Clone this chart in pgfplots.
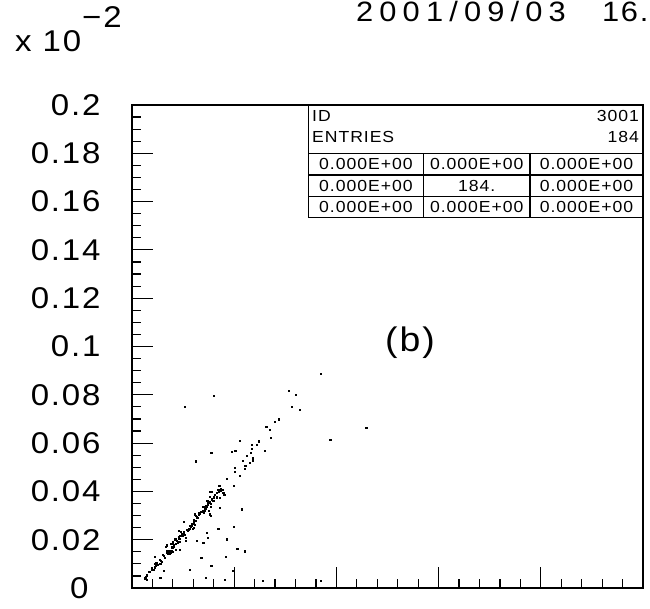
\documentclass[border=0pt]{standalone}
\usepackage{pgfplots}
\pgfplotsset{compat=1.18}
\usepackage{fontspec}
\setmainfont{Liberation Sans}
\newfontfamily\pawfont[FakeStretch=1.1,LetterSpace=6]{Liberation Sans}
\newfontfamily\datefont[FakeStretch=1.1,LetterSpace=22]{Liberation Sans}
\newcommand{\bigpaw}{\pawfont\fontsize{30}{32}\selectfont}
\newcommand{\smallpaw}{\pawfont\fontsize{16}{17}\selectfont}
\newcommand{\yl}[1]{#1\hspace*{28pt}}
\pgfplotstableread{
x y
0.0737 0.0889
0.0614 0.0817
0.0641 0.0800
0.0321 0.0795
0.0207 0.0750
0.0625 0.0751
0.0656 0.0737
0.0575 0.0699
0.0560 0.0690
0.0525 0.0668
0.0538 0.0657
0.0917 0.0665
0.0543 0.0624
0.0776 0.0614
0.0423 0.0610
0.0496 0.0608
0.0487 0.0593
0.0470 0.0593
0.0469 0.0577
0.0520 0.0569
0.0404 0.0569
0.0390 0.0564
0.0310 0.0561
0.0464 0.0561
0.0450 0.0547
0.0473 0.0539
0.0472 0.0529
0.0433 0.0527
0.0250 0.0525
0.0460 0.0519
0.0443 0.0508
0.0442 0.0495
0.0402 0.0497
0.0402 0.0480
0.0423 0.0464
0.0372 0.0453
0.0399 0.0422
0.0341 0.0425
0.0346 0.0412
0.0353 0.0408
0.0337 0.0406
0.0311 0.0400
0.0303 0.0398
0.0357 0.0395
0.0361 0.0387
0.0331 0.0393
0.0305 0.0378
0.0321 0.0376
0.0342 0.0375
0.0332 0.0379
0.0294 0.0362
0.0303 0.0356
0.0307 0.0350
0.0288 0.0342
0.0297 0.0345
0.0279 0.0338
0.0285 0.0333
0.0308 0.0337
0.0342 0.0331
0.0430 0.0326
0.0300 0.0320
0.0261 0.0313
0.0266 0.0308
0.0271 0.0315
0.0282 0.0312
0.0245 0.0306
0.0250 0.0300
0.0303 0.0306
0.0308 0.0298
0.0253 0.0293
0.0248 0.0279
0.0202 0.0276
0.0240 0.0270
0.0245 0.0262
0.0235 0.0260
0.0230 0.0254
0.0243 0.0251
0.0238 0.0246
0.0224 0.0246
0.0219 0.0237
0.0337 0.0246
0.0399 0.0255
0.0183 0.0237
0.0191 0.0232
0.0201 0.0227
0.0206 0.0221
0.0291 0.0229
0.0193 0.0215
0.0183 0.0212
0.0209 0.0208
0.0169 0.0202
0.0175 0.0196
0.0188 0.0193
0.0211 0.0196
0.0295 0.0209
0.0371 0.0202
0.0253 0.0195
0.0279 0.0188
0.0159 0.0185
0.0164 0.0177
0.0157 0.0169
0.0136 0.0177
0.0133 0.0171
0.0172 0.0160
0.0188 0.0157
0.0138 0.0152
0.0144 0.0149
0.0149 0.0152
0.0141 0.0144
0.0146 0.0146
0.0136 0.0149
0.0154 0.0154
0.0159 0.0149
0.0144 0.0141
0.0412 0.0163
0.0441 0.0152
0.0089 0.0129
0.0123 0.0133
0.0128 0.0127
0.0271 0.0124
0.0368 0.0130
0.0112 0.0114
0.0117 0.0108
0.0112 0.0099
0.0094 0.0094
0.0102 0.0096
0.0107 0.0099
0.0310 0.0091
0.0078 0.0083
0.0083 0.0077
0.0089 0.0086
0.0125 0.0071
0.0226 0.0077
0.0070 0.0069
0.0065 0.0066
0.0395 0.0072
0.0058 0.0053
0.0055 0.0047
0.0052 0.0041
0.0110 0.0044
0.0290 0.0044
0.0057 0.0034
0.0363 0.0034
0.0511 0.0031
0.0740 0.0031
0.0151 0.0182
0.0162 0.0171
0.0159 0.0190
0.0196 0.0224
0.0188 0.0215
0.0222 0.0243
0.0238 0.0265
0.0248 0.0298
0.0292 0.0337
0.0332 0.0373
0.0091 0.0099
0.0076 0.0075
0.0140 0.0155
0.0147 0.0143
0.0135 0.0147
0.0151 0.0147
0.0170 0.0185
0.0178 0.0190
0.0185 0.0205
0.0198 0.0218
0.0203 0.0233
0.0213 0.0240
0.0227 0.0258
0.0233 0.0266
0.0242 0.0281
0.0256 0.0290
0.0262 0.0302
0.0276 0.0318
0.0284 0.0322
0.0290 0.0330
0.0298 0.0352
0.0312 0.0368
0.0325 0.0385
0.0338 0.0398
0.0348 0.0402
0.0107 0.0118
0.0095 0.0104
0.0120 0.0137
0.0318 0.0360
}\scatterdata
\begin{document}
\begin{tikzpicture}[x=1pt,y=1pt]
\begin{axis}[
  scale only axis, width=511pt, height=483pt,
  at={(0,0)}, anchor=south west,
  xmin=0, xmax=0.2, ymin=0, ymax=0.2,
  axis line style={line width=2.6pt, black},
  tick pos=left, tick align=inside,
  xtick={0,0.04,0.08,0.12,0.16,0.2}, xticklabels={},
  minor x tick num=4,
  ytick={0,0.02,0.04,0.06,0.08,0.1,0.12,0.14,0.16,0.18,0.2},
  yticklabels={0\hspace*{40pt},\yl{0.02},\yl{0.04},\yl{0.06},\yl{0.08},\yl{0.1},\yl{0.12},\yl{0.14},\yl{0.16},\yl{0.18},\yl{0.2}},
  minor y tick num=3,
  major tick length=21pt, minor tick length=9.5pt,
  every tick/.style={black, line width=1.2pt},
  yticklabel style={font=\bigpaw, anchor=east},
  clip=false,
]
\addplot[only marks, mark=square*, mark size=0.6pt, black, draw=none] table[x=x,y=y] {\scatterdata};
\end{axis}
% statistics box
\begin{scope}[line width=1.4pt]
\draw (176.5,370.3) rectangle (511,483);
\draw (176.5,434.7) -- (511,434.7);
\draw (176.5,413) -- (511,413);
\draw (176.5,391.3) -- (511,391.3);
\draw (291.3,370.3) -- (291.3,434.7);
\draw (398,370.3) -- (398,434.7);
\end{scope}
\begin{scope}[every node/.style={inner sep=0pt, font=\smallpaw}]
\node[anchor=west] at (180,472.3) {ID};
\node[anchor=east] at (507,472.3) {3001};
\node[anchor=west] at (180,450.7) {ENTRIES};
\node[anchor=east] at (507,450.7) {184};
\node at (233.9,423.9) {0.000E+00};
\node at (344.7,423.9) {0.000E+00};
\node at (454.5,423.9) {0.000E+00};
\node at (233.9,402.2) {0.000E+00};
\node at (344.7,402.2) {184.};
\node at (454.5,402.2) {0.000E+00};
\node at (233.9,380.7) {0.000E+00};
\node at (344.7,380.7) {0.000E+00};
\node at (454.5,380.7) {0.000E+00};
\end{scope}
\begin{scope}[every node/.style={inner sep=0pt, font=\bigpaw}]
\node[font=\pawfont\fontsize{34}{36}\selectfont] at (278,245) {(b)};
\node[anchor=base west] at (-117,536) {x 10};
\node[anchor=base west] at (-50,560) {−2};
\node[anchor=base west, font=\datefont\fontsize{28}{30}\selectfont] at (224,566) {2001/09/03};
\node[anchor=base west, font=\pawfont\fontsize{28}{30}\selectfont] at (470,566) {16.};
\end{scope}
\pgfresetboundingbox
\path[use as bounding box] (-132,-20) rectangle (518,588);
\end{tikzpicture}
\end{document}
